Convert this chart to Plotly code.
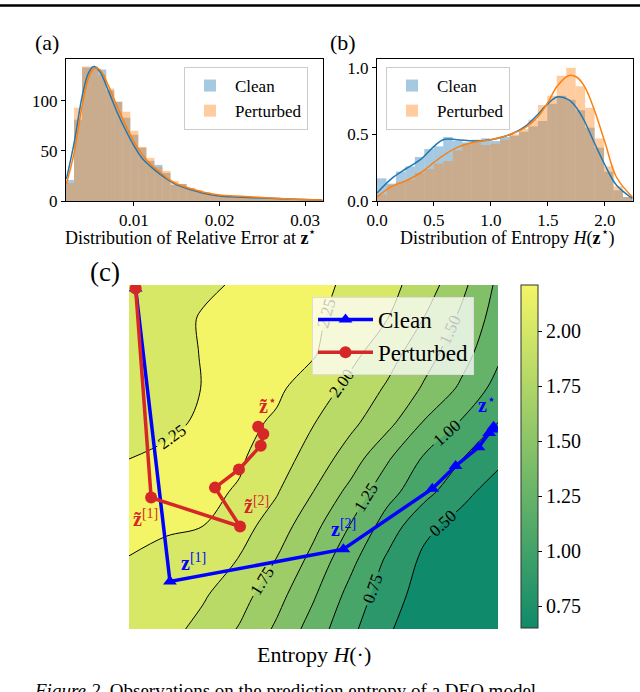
import numpy as np
import plotly.graph_objects as go

FONT = "Liberation Serif"
W, H = 640, 692

# ---- (a) relative error at z*: histogram bin heights + KDE
err_bin_start = 0.00205
err_bin_width = 0.00094
err_clean = [21, 81, 133, 134, 131, 110, 99, 83, 66, 53, 40, 36, 28, 16, 17, 13,
             10, 7, 6, 5, 5, 4, 3, 3, 3, 2, 2, 2, 1, 1, 1, 1]
err_pert = [18, 93, 134, 132, 126, 112, 99, 89, 70, 54, 43, 34, 30, 20, 17, 13,
            11, 9, 7, 6, 5, 4, 3, 3, 2, 3, 2, 1, 2, 1, 1, 1]
err_kde_x = [0.0021, 0.003, 0.004, 0.0047, 0.0053, 0.006, 0.007, 0.008, 0.009, 0.010, 0.011,
             0.012, 0.013, 0.014, 0.015, 0.016, 0.018, 0.020, 0.022, 0.025, 0.028, 0.032]
err_kde_clean = [22, 58, 107, 128, 134, 129, 110, 89, 71, 55, 42, 34, 27, 21, 16, 13, 8, 5, 4, 3, 2, 1]
err_kde_pert = [17, 48, 98, 123, 132, 131, 115, 95, 76, 59, 46, 36, 29, 22, 17, 14, 9, 6, 5, 3.5, 2, 1]

# ---- (b) entropy H(z*)
ent_bin_start = 0.0
ent_bin_width = 0.083
ent_clean = [0.17, 0.13, 0.22, 0.26, 0.33, 0.39, 0.41, 0.48, 0.45, 0.44, 0.46, 0.47, 0.45, 0.48,
             0.49, 0.52, 0.56, 0.60, 0.73, 0.79, 0.76, 0.68, 0.55, 0.40, 0.22, 0.08, 0.03]
ent_pert = [0.05, 0.12, 0.14, 0.16, 0.21, 0.24, 0.28, 0.30, 0.38, 0.43, 0.44, 0.42, 0.43, 0.46,
            0.50, 0.54, 0.61, 0.72, 0.79, 0.94, 1.00, 0.86, 0.70, 0.47, 0.26, 0.11, 0.03]
ent_kde_x = [0, 0.13, 0.25, 0.38, 0.5, 0.58, 0.7, 0.85, 1.0, 1.1, 1.2, 1.3, 1.4, 1.5,
             1.58, 1.68, 1.75, 1.82, 1.9, 2.0, 2.1, 2.24]
ent_kde_clean = [0.06, 0.17, 0.24, 0.31, 0.41, 0.46, 0.46, 0.45, 0.46, 0.48, 0.51, 0.56, 0.64, 0.73,
                 0.78, 0.76, 0.70, 0.60, 0.45, 0.27, 0.12, 0.02]
ent_kde_pert = [0.03, 0.11, 0.15, 0.21, 0.29, 0.34, 0.40, 0.44, 0.46, 0.48, 0.51, 0.55, 0.62, 0.74,
                0.86, 0.94, 0.93, 0.86, 0.70, 0.44, 0.18, 0.03]

# ---- (c) entropy landscape (values estimated on a coarse grid) and trajectories
grid_x = [0.0, 0.1, 0.2, 0.3, 0.4, 0.5, 0.6, 0.7, 0.8, 0.9, 1.0]
grid_y = [0.0, 0.1, 0.2, 0.3, 0.4, 0.5, 0.6, 0.7, 0.8, 0.9, 1.0]
entropy = [
    [2.20, 2.08, 1.93, 1.73, 1.46, 1.14, 0.81, 0.53, 0.35, 0.25, 0.20],
    [2.22, 2.12, 2.03, 1.85, 1.59, 1.28, 0.92, 0.61, 0.40, 0.30, 0.25],
    [2.24, 2.16, 2.08, 1.99, 1.74, 1.42, 1.07, 0.71, 0.45, 0.35, 0.30],
    [2.32, 2.29, 2.252, 2.09, 1.89, 1.57, 1.24, 0.89, 0.56, 0.42, 0.35],
    [2.33, 2.33, 2.30, 2.23, 2.02, 1.75, 1.43, 1.09, 0.84, 0.57, 0.40],
    [2.245, 2.30, 2.33, 2.28, 2.12, 1.90, 1.64, 1.29, 0.98, 0.77, 0.56],
    [2.12, 2.19, 2.29, 2.31, 2.22, 2.01, 1.81, 1.58, 1.23, 0.98, 0.75],
    [2.10, 2.17, 2.255, 2.31, 2.29, 2.14, 1.93, 1.72, 1.47, 1.21, 0.91],
    [2.10, 2.17, 2.26, 2.31, 2.32, 2.27, 2.07, 1.85, 1.60, 1.35, 1.05],
    [2.12, 2.18, 2.265, 2.31, 2.32, 2.28, 2.18, 2.00, 1.74, 1.45, 1.14],
    [2.15, 2.18, 2.22, 2.27, 2.30, 2.28, 2.23, 2.08, 1.88, 1.57, 1.20],
]
clean_x = [0.018, 0.111, 0.581, 0.822, 0.885, 0.947, 0.976, 0.985, 0.988]
clean_y = [0.990, 0.138, 0.232, 0.408, 0.474, 0.528, 0.570, 0.580, 0.588]
pert_x = [0.018, 0.060, 0.301, 0.233, 0.298, 0.357, 0.364, 0.350]
pert_y = [0.990, 0.382, 0.298, 0.411, 0.464, 0.533, 0.567, 0.588]

summer = [[0.0, "#0f8a6a"], [1.0, "#f3f566"]]


def px_x(p):
    return p / W


def px_y(p):
    return 1 - p / H


fig = go.Figure()

# (a)
err_centers = err_bin_start + err_bin_width * (np.arange(len(err_clean)) + 0.5)
fig.add_trace(go.Bar(x=err_centers, y=err_clean, width=err_bin_width, name="Clean",
                     marker=dict(color="rgba(31,119,180,0.4)", line=dict(width=0)),
                     xaxis="x", yaxis="y", legend="legend"))
fig.add_trace(go.Bar(x=err_centers, y=err_pert, width=err_bin_width, name="Perturbed",
                     marker=dict(color="rgba(255,127,14,0.4)", line=dict(width=0)),
                     xaxis="x", yaxis="y", legend="legend"))
fig.add_trace(go.Scatter(x=err_kde_x, y=err_kde_clean, mode="lines", showlegend=False,
                         line=dict(color="#1f77b4", width=1.5, shape="spline"), xaxis="x", yaxis="y"))
fig.add_trace(go.Scatter(x=err_kde_x, y=err_kde_pert, mode="lines", showlegend=False,
                         line=dict(color="#ff7f0e", width=1.5, shape="spline"), xaxis="x", yaxis="y"))

# (b)
ent_centers = ent_bin_start + ent_bin_width * (np.arange(len(ent_clean)) + 0.5)
fig.add_trace(go.Bar(x=ent_centers, y=ent_clean, width=ent_bin_width, name="Clean",
                     marker=dict(color="rgba(31,119,180,0.4)", line=dict(width=0)),
                     xaxis="x2", yaxis="y2", legend="legend2"))
fig.add_trace(go.Bar(x=ent_centers, y=ent_pert, width=ent_bin_width, name="Perturbed",
                     marker=dict(color="rgba(255,127,14,0.4)", line=dict(width=0)),
                     xaxis="x2", yaxis="y2", legend="legend2"))
fig.add_trace(go.Scatter(x=ent_kde_x, y=ent_kde_clean, mode="lines", showlegend=False,
                         line=dict(color="#1f77b4", width=1.5, shape="spline"), xaxis="x2", yaxis="y2"))
fig.add_trace(go.Scatter(x=ent_kde_x, y=ent_kde_pert, mode="lines", showlegend=False,
                         line=dict(color="#ff7f0e", width=1.5, shape="spline"), xaxis="x2", yaxis="y2"))

# (c)
fig.add_trace(go.Contour(
    x=grid_x, y=grid_y, z=entropy, xaxis="x3", yaxis="y3", showscale=False,
    colorscale=summer, zmin=0.375, zmax=2.375,
    contours=dict(start=0.5, end=2.25, size=0.25, coloring="fill", showlabels=True,
                  labelformat=".2f", labelfont=dict(family=FONT, size=17, color="black")),
    line=dict(color="black", width=1, smoothing=1.0),
    hoverinfo="skip",
))
# continuous colour bar
fig.add_trace(go.Scatter(
    x=[0.5], y=[0.5], mode="markers", xaxis="x3", yaxis="y3", showlegend=False,
    marker=dict(size=1, opacity=0, color=[1.4], colorscale=summer, cmin=0.652, cmax=2.21,
                showscale=True,
                colorbar=dict(x=px_x(521), xanchor="left", y=px_y(456.5), yanchor="middle",
                              xpad=0, ypad=0,
                              thickness=17, thicknessmode="pixels", len=343, lenmode="pixels",
                              outlinewidth=1, outlinecolor="#333",
                              tickvals=[0.75, 1.0, 1.25, 1.5, 1.75, 2.0],
                              ticktext=["0.75", "1.00", "1.25", "1.50", "1.75", "2.00"],
                              ticks="outside", ticklen=4, tickcolor="black",
                              tickfont=dict(family=FONT, size=20, color="black"))),
))
fig.add_trace(go.Scatter(x=clean_x, y=clean_y, mode="lines+markers", name="Clean",
                         line=dict(color="#0000ff", width=3.5),
                         marker=dict(symbol="triangle-up", size=12, color="#0000ff"),
                         xaxis="x3", yaxis="y3", legend="legend3"))
fig.add_trace(go.Scatter(x=pert_x, y=pert_y, mode="lines+markers", name="Perturbed",
                         line=dict(color="#d62728", width=3.5),
                         marker=dict(symbol="circle", size=12, color="#d62728"),
                         xaxis="x3", yaxis="y3", legend="legend3"))

# iterate labels
blue, red = "#0000ff", "#d62728"
labels = [
    (0.377, 0.652, "<b>z\u0303</b><sup>\u22c6</sup>", red),
    (0.045, 0.322, "<b>z\u0303</b><sup>[1]</sup>", red),
    (0.345, 0.360, "<b>z\u0303</b><sup>[2]</sup>", red),
    (0.175, 0.196, "<b>z</b><sup>[1]</sup>", blue),
    (0.580, 0.293, "<b>z</b><sup>[2]</sup>", blue),
    (0.970, 0.655, "<b>z</b><sup>\u22c6</sup>", blue),
]
annotations = []
for lx, ly, txt, col in labels:
    annotations.append(dict(x=lx, y=ly, xref="x3", yref="y3", text=txt, showarrow=False,
                            font=dict(family=FONT, size=20, color=col)))

# panel letters, axis titles and caption
texts = [
    (33, 42, "(a)", 22, "left"),
    (328, 42, "(b)", 22, "left"),
    (88, 272, "(c)", 27, "left"),
    (190, 237, "Distribution of Relative Error at <b>z</b><sup>\u22c6</sup>", 18, "center"),
    (507, 237, "Distribution of Entropy <i>H</i>(<b>z</b><sup>\u22c6</sup>)", 18, "center"),
    (314, 654, "Entropy <i>H</i>(\u00b7)", 22, "center"),
    (32, 690, "<i>Figure 2.</i> Observations on the prediction entropy of a DEQ model", 19, "left"),
]
for tx, ty, txt, size, anchor in texts:
    annotations.append(dict(x=px_x(tx), y=px_y(ty), xref="paper", yref="paper", text=txt,
                            xanchor=anchor, yanchor="middle", showarrow=False,
                            font=dict(family=FONT, size=size, color="black")))

hist_axis = dict(showline=True, mirror=True, linecolor="black", linewidth=1, showgrid=False,
                 zeroline=False, ticks="outside", ticklen=4, tickcolor="black",
                 tickfont=dict(family=FONT, size=17, color="black"))
legend_style = dict(xanchor="left", yanchor="top", bgcolor="rgba(255,255,255,0.8)",
                    bordercolor="#cccccc", borderwidth=1, itemwidth=40,
                    font=dict(family=FONT, size=17, color="black"), tracegroupgap=0)

fig.update_layout(
    width=W, height=H, margin=dict(l=0, r=0, t=0, b=0, autoexpand=False),
    paper_bgcolor="white", plot_bgcolor="white", barmode="overlay",
    font=dict(family=FONT, color="black"),
    xaxis=dict(domain=[px_x(66), px_x(323)], range=[0.00205, 0.0321],
               tickvals=[0.01, 0.02, 0.03], ticktext=["0.01", "0.02", "0.03"],
               anchor="y", **hist_axis),
    yaxis=dict(domain=[px_y(201), px_y(59)], range=[0, 141.5], tickvals=[0, 50, 100],
               anchor="x", **hist_axis),
    xaxis2=dict(domain=[px_x(377), px_x(633)], range=[0, 2.246],
                tickvals=[0, 0.5, 1.0, 1.5, 2.0], ticktext=["0.0", "0.5", "1.0", "1.5", "2.0"],
                anchor="y2", **hist_axis),
    yaxis2=dict(domain=[px_y(201), px_y(59)], range=[0, 1.065], tickvals=[0, 0.5, 1.0],
                ticktext=["0.0", "0.5", "1.0"], anchor="x2", **hist_axis),
    xaxis3=dict(domain=[px_x(129), px_x(498)], range=[0, 1], showticklabels=False,
                showgrid=False, zeroline=False, ticks="", anchor="y3"),
    yaxis3=dict(domain=[px_y(629), px_y(285)], range=[0, 1], showticklabels=False,
                showgrid=False, zeroline=False, ticks="", anchor="x3"),
    legend=dict(x=px_x(184), y=px_y(67), **legend_style),
    legend2=dict(x=px_x(386), y=px_y(67), **legend_style),
    legend3=dict(x=px_x(312), y=px_y(297), xanchor="left", yanchor="top", itemwidth=55,
                 bgcolor="rgba(255,255,255,0.75)", bordercolor="#dddddd", borderwidth=1,
                 font=dict(family=FONT, size=23, color="black")),
    annotations=annotations,
    shapes=[dict(type="line", xref="paper", yref="paper", x0=0, x1=1,
                 y0=px_y(5.5), y1=px_y(5.5), line=dict(color="black", width=2.5))],
)

fig.write_html("out.html", config={"displayModeBar": False},
               post_script="document.body.style.margin='0';document.body.style.overflow='hidden';")
